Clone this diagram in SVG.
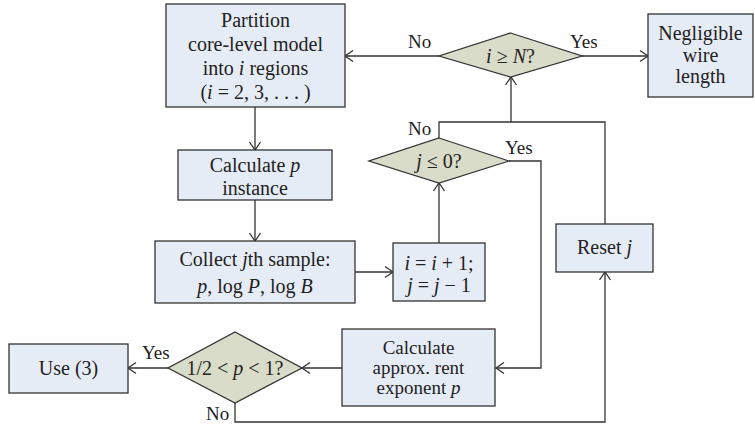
<svg xmlns="http://www.w3.org/2000/svg" width="755" height="424" viewBox="0 0 755 424">
  <style>
    .box { fill: #e6ecf5; stroke: #333333; stroke-width: 1.3; }
    .dia { fill: #d9dcc8; stroke: #333333; stroke-width: 1.3; }
    text { font-family: "Liberation Serif", "DejaVu Serif", serif; fill: #222222; }
    .t { font-size: 20px; text-anchor: middle; }
    .t.sm { font-size: 19px; }
    .lbl { font-size: 19px; }
    .it { font-style: italic; }
    .wire { fill: none; stroke: #333333; stroke-width: 1.3; }
    .arr { marker-end: url(#chev); }
  </style>
  <defs>
    <!-- open chevron arrowhead -->
    <marker id="chev" markerUnits="userSpaceOnUse" markerWidth="12" markerHeight="14" viewBox="-9 -7 10 14" refX="0" refY="0" orient="auto" overflow="visible">
      <path d="M-8,-5.5 L0,0 L-8,5.5" fill="none" stroke="#333333" stroke-width="1.3"/>
    </marker>
  </defs>

  <rect width="755" height="424" fill="#ffffff"/>

  <!-- connectors and branch labels -->
  <g id="connectors">
    <path class="wire arr" d="M439,56 H345"/>
    <path class="wire arr" d="M582,56 H648"/>
    <path class="wire arr" d="M255,107 V150"/>
    <path class="wire arr" d="M255,200 V241"/>
    <path class="wire arr" d="M355,272 H393"/>
    <path class="wire arr" d="M439,243 V183"/>
    <path class="wire" d="M439,138 V122 H605 V224"/>
    <path class="wire arr" d="M511,122 V77"/>
    <path class="wire arr" d="M509,161 H541 V368 H496"/>
    <path class="wire arr" d="M342,368 H302"/>
    <path class="wire arr" d="M168,368 H128"/>
    <path class="wire arr" d="M235,403 V422 H605 V272"/>
    <text class="lbl" x="408" y="48">No</text>
    <text class="lbl" x="570" y="48">Yes</text>
    <text class="lbl" x="408" y="135">No</text>
    <text class="lbl" x="505" y="154">Yes</text>
    <text class="lbl" x="142" y="359">Yes</text>
    <text class="lbl" x="206" y="420">No</text>
  </g>

  <g id="partition">
    <rect class="box" x="166" y="4" width="179" height="103"/>
    <text class="t" x="255.5" y="26.5">Partition</text>
    <text class="t" x="255.5" y="50.5">core-level model</text>
    <text class="t" x="255.5" y="74.5">into <tspan class="it">i</tspan> regions</text>
    <text class="t" x="255.5" y="98.5">(<tspan class="it">i</tspan> = 2, 3, . . . )</text>
  </g>

  <g id="calc-p">
    <rect class="box" x="178" y="150" width="154" height="50"/>
    <text class="t" x="255" y="172">Calculate <tspan class="it">p</tspan></text>
    <text class="t" x="255" y="194.5">instance</text>
  </g>

  <g id="collect">
    <rect class="box" x="155" y="241" width="200" height="62"/>
    <text class="t" x="255" y="266">Collect <tspan class="it">j</tspan>th sample:</text>
    <text class="t" x="255" y="293"><tspan class="it">p</tspan>, log <tspan class="it">P</tspan>, log <tspan class="it">B</tspan></text>
  </g>

  <g id="increment">
    <rect class="box" x="393" y="243" width="92" height="58"/>
    <text class="t" x="439" y="270"><tspan class="it">i</tspan> = <tspan class="it">i</tspan> + 1;</text>
    <text class="t" x="439" y="292"><tspan class="it">j</tspan> = <tspan class="it">j</tspan> − 1</text>
  </g>

  <g id="check-j">
    <polygon class="dia" points="439,138 509,161 439,183 369,161"/>
    <text class="t" x="439" y="168"><tspan class="it">j</tspan> ≤ 0?</text>
  </g>

  <g id="check-i">
    <polygon class="dia" points="510.5,33 582,56 510.5,77 439,56"/>
    <text class="t" x="510.5" y="63"><tspan class="it">i</tspan> ≥ <tspan class="it">N</tspan>?</text>
  </g>

  <g id="negligible">
    <rect class="box" x="648" y="14" width="105" height="83"/>
    <text class="t" x="700.5" y="40">Negligible</text>
    <text class="t" x="700.5" y="62">wire</text>
    <text class="t" x="700.5" y="83">length</text>
  </g>

  <g id="reset-j">
    <rect class="box" x="556" y="224" width="97" height="48"/>
    <text class="t" x="604.5" y="254">Reset <tspan class="it">j</tspan></text>
  </g>

  <g id="calc-rent">
    <rect class="box" x="342" y="329" width="153" height="77"/>
    <text class="t sm" x="418.5" y="354">Calculate</text>
    <text class="t sm" x="418.5" y="374">approx. rent</text>
    <text class="t sm" x="418.5" y="394">exponent <tspan class="it">p</tspan></text>
  </g>

  <g id="check-p">
    <polygon class="dia" points="235,332 302,368 235,403 168,368"/>
    <text class="t" x="235" y="375">1/2 &lt; <tspan class="it">p</tspan> &lt; 1?</text>
  </g>

  <g id="use-3">
    <rect class="box" x="9" y="344" width="119" height="49"/>
    <text class="t" x="68.5" y="375">Use (3)</text>
  </g>
</svg>
